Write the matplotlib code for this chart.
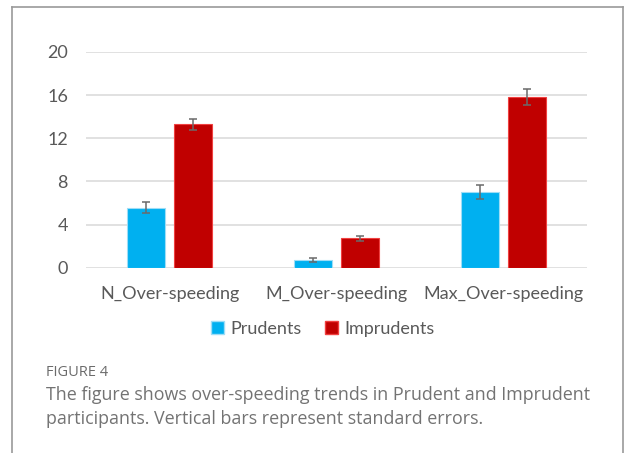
import matplotlib
matplotlib.use("Agg")
import matplotlib.pyplot as plt
import numpy as np
from matplotlib.lines import Line2D
from matplotlib.patches import Patch

categories = ["N_Over-speeding", "M_Over-speeding", "Max_Over-speeding"]
prudents = [5.56, 0.71, 7.04]
prudents_se = [0.50, 0.18, 0.65]
imprudents = [13.28, 2.72, 15.83]
imprudents_se = [0.55, 0.20, 0.72]
yticks = [0, 4, 8, 12, 16, 20]

W, H = 625, 453
fig = plt.figure(figsize=(W / 100, H / 100), dpi=100)
ax = fig.add_axes([86 / W, 1 - 267.7 / H, (587 - 86) / W, (267.7 - 52) / H])

x = np.arange(len(categories))
bw = 0.23
off = 0.142
ax.bar(x - off, prudents, bw, color="#00B0F0", edgecolor="#9EDDF6", linewidth=0.8,
       yerr=prudents_se, error_kw=dict(ecolor="#6a6a6a", elinewidth=1.1, capsize=3, capthick=1.1),
       label="Prudents", zorder=3)
ax.bar(x + off, imprudents, bw, color="#C00000", edgecolor="#F04040", linewidth=0.8,
       yerr=imprudents_se, error_kw=dict(ecolor="#6a6a6a", elinewidth=1.1, capsize=3, capthick=1.1),
       label="Imprudents", zorder=3)

ax.set_xlim(-0.5, 2.5)
ax.set_ylim(0, 20)
ax.set_yticks(yticks)
ax.yaxis.grid(True, color="#D9D9D9", linewidth=1.1, zorder=0)
ax.set_axisbelow(True)
for s in ax.spines.values():
    s.set_visible(False)
ax.tick_params(axis="both", length=0, labelsize=13, labelcolor="#595959")
ax.tick_params(axis="y", pad=13)
ax.tick_params(axis="x", pad=13)
ax.set_xticks(x)
ax.set_xticklabels(categories, family="Lato")
for t in ax.get_yticklabels():
    t.set_family("Lato")

handles = [Patch(facecolor="#00B0F0", edgecolor="#9EDDF6", label="Prudents"),
           Patch(facecolor="#C00000", edgecolor="#F04040", label="Imprudents")]
fig.legend(handles=handles, loc="center", bbox_to_anchor=(323 / W, 1 - 329 / H), ncol=2,
           frameon=False, handlelength=0.72, handleheight=0.72, handletextpad=0.35,
           columnspacing=1.3, prop=dict(family="Lato", size=13), labelcolor="#595959")

fig.text(46 / W, 1 - 372 / H, "FIGURE 4", fontsize=10.5, color="#6b6b6b", family="Open Sans",
         va="center", ha="left")
fig.text(46 / W, 1 - 395 / H, "The figure shows over-speeding trends in Prudent and Imprudent",
         fontsize=12.9, color="#737373", family="Open Sans", va="center", ha="left")
fig.text(46 / W, 1 - 419 / H, "participants. Vertical bars represent standard errors.",
         fontsize=12.9, color="#737373", family="Open Sans", va="center", ha="left")

bc = "#9a9a9a"
fig.add_artist(Line2D([11.5 / W, 11.5 / W], [0, 1 - 7 / H], color=bc, linewidth=1.2))
fig.add_artist(Line2D([11.5 / W, 622.5 / W], [1 - 7 / H, 1 - 7 / H], color=bc, linewidth=1.2))
fig.add_artist(Line2D([622.5 / W, 622.5 / W], [0, 1 - 7 / H], color=bc, linewidth=1.2))

fig.savefig("out.png", dpi=100)
